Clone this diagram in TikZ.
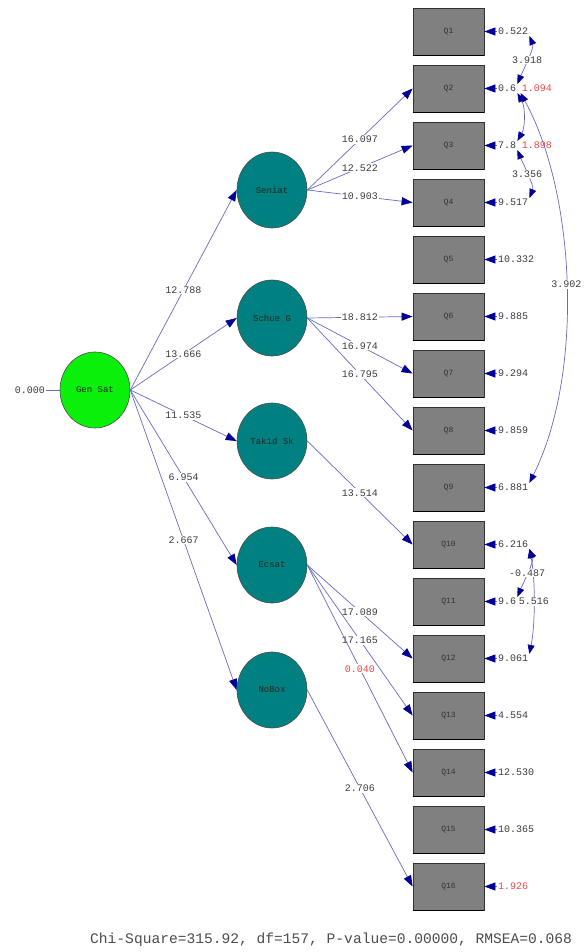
\documentclass[tikz,border=0pt]{standalone}
\usepackage{fontspec}
\setmonofont{Liberation Mono}
\usetikzlibrary{arrows.meta,shapes.geometric}
\definecolor{boxgray}{RGB}{128,128,128}
\definecolor{boxedge}{RGB}{50,50,50}
\definecolor{latc}{RGB}{0,128,128}
\definecolor{limec}{RGB}{10,240,10}
\definecolor{pathc}{RGB}{105,105,195}
\definecolor{tipc}{RGB}{0,0,150}
\definecolor{redl}{RGB}{240,70,70}
\definecolor{txtc}{RGB}{60,60,60}
\begin{document}
\begin{tikzpicture}[x=1pt,y=-1pt,
  obs/.style={rectangle, minimum width=71pt, minimum height=47pt, inner sep=0pt,
    fill=boxgray, draw=boxedge, line width=0.8pt,
    font=\ttfamily\fontsize{8}{9}\selectfont, text=black!80},
  lat/.style={ellipse, minimum width=70pt, minimum height=76pt, inner sep=0pt,
    fill=latc, draw=black!70, line width=0.6pt,
    font=\ttfamily\fontsize{9}{10}\selectfont, text=black!85},
  pth/.style={draw=pathc, line width=0.7pt,
    -{Triangle[length=11pt,width=8pt,color=tipc]}},
  cov/.style={draw=pathc, line width=0.7pt,
    {Triangle[length=9pt,width=7pt,color=tipc]}-{Triangle[length=9pt,width=7pt,color=tipc]}},
  lbl/.style={fill=white, inner sep=1pt, font=\ttfamily\fontsize{10}{11}\selectfont, text=txtc},
  elbl/.style={inner sep=1pt, anchor=west, font=\ttfamily\fontsize{10}{11}\selectfont, text=txtc},
  rlbl/.style={inner sep=1pt, font=\ttfamily\fontsize{10}{11}\selectfont, text=redl}
]
\useasboundingbox (0,0) rectangle (583,952);
\fill[white] (0,0) rectangle (583,952);

% observed variables
\foreach \i in {1,...,16} {
  \node[obs] (q\i) at (448.5,{31.5+57*(\i-1)}) {Q\i};
  \draw[black, line width=1.6pt] (q\i.south west) -- (q\i.south east);
}

% error variances
\foreach \i/\v in {1/0.522,2/0.6,3/7.8,4/9.517,5/10.332,6/9.885,7/9.294,8/9.859,
                   9/6.881,10/6.216,11/9.6,12/9.061,13/4.554,14/12.530,15/10.365} {
  \node[elbl] (e\i) at (497,{31.5+57*(\i-1)}) {\v};
}
\node[elbl, text=redl] (e16) at (497,{31.5+57*15}) {1.926};
\foreach \i in {1,...,16} { \draw[pth] (e\i.west) -- (q\i.east); }

% latent variables
\node[lat, fill=limec] (gs) at (95,390) {Gen Sat};
\node[lat] (sen) at (272,190) {Seniat};
\node[lat] (sch) at (272,318) {Schue G};
\node[lat] (tak) at (272,441) {Takid Sk};
\node[lat] (ecs) at (272,565) {Ecsat};
\node[lat] (nob) at (272,690) {NoBox};

\node[lbl] (z) at (30,390) {0.000};
\draw[pathc, line width=0.7pt] (z.east) -- (gs.west);

% second-order loadings
\draw[pth] (gs.east) -- (sen.west) node[lbl, pos=0.5] {12.788};
\draw[pth] (gs.east) -- (sch.west) node[lbl, pos=0.5] {13.666};
\draw[pth] (gs.east) -- (tak.west) node[lbl, pos=0.5] {11.535};
\draw[pth] (gs.east) -- (ecs.west) node[lbl, pos=0.5] {6.954};
\draw[pth] (gs.east) -- (nob.west) node[lbl, pos=0.5] {2.667};

% first-order loadings
\draw[pth] (sen.east) -- (q2.west) node[lbl, pos=0.5] {16.097};
\draw[pth] (sen.east) -- (q3.west) node[lbl, pos=0.5] {12.522};
\draw[pth] (sen.east) -- (q4.west) node[lbl, pos=0.5] {10.903};
\draw[pth] (sch.east) -- (q6.west) node[lbl, pos=0.5] {18.812};
\draw[pth] (sch.east) -- (q7.west) node[lbl, pos=0.5] {16.974};
\draw[pth] (sch.east) -- (q8.west) node[lbl, pos=0.5] {16.795};
\draw[pth] (tak.east) -- (q10.west) node[lbl, pos=0.5] {13.514};
\draw[pth] (ecs.east) -- (q12.west) node[lbl, pos=0.5] {17.089};
\draw[pth] (ecs.east) -- (q13.west) node[lbl, pos=0.5] {17.165};
\draw[pth] (ecs.east) -- (q14.west) node[lbl, pos=0.5, text=redl] {0.040};
\draw[pth] (nob.east) -- (q16.west) node[lbl, pos=0.5] {2.706};

% error covariances
\node[rlbl, anchor=east] (c13) at (553,88.5) {1.094};
\node[rlbl, anchor=east] (c24) at (553,145.5) {1.898};
\draw[cov] (c13.south west) .. controls +(55,100) and +(55,-110) .. (e9.north east)
  node[lbl, pos=0.5] {3.902};
\draw[cov] (e1.south east) .. controls +(5,12) and +(5,-12) .. (e2.north east)
  node[lbl, pos=0.5] {3.918};
\draw[cov] (e2.south east) .. controls +(8,14) and +(8,-14) .. (e3.north east);
\draw[cov] (e3.south east) .. controls +(5,12) and +(5,-12) .. (e4.north east)
  node[lbl, pos=0.5] {3.356};
\draw[cov] (e10.south east) .. controls +(6,30) and +(6,-30) .. (e12.north east)
  node[lbl, pos=0.5] (c1012) {5.516};
\draw[cov] (e10.south east) .. controls +(5,12) and +(5,-12) .. (e11.north east)
  node[lbl, pos=0.5] {-0.487};

% fit statistics
\node[anchor=west, inner sep=0pt, font=\ttfamily\fontsize{14.6}{16}\selectfont, text=black!70]
  (fit) at (90,940) {Chi-Square=315.92, df=157, P-value=0.00000, RMSEA=0.068};
\end{tikzpicture}
\end{document}
